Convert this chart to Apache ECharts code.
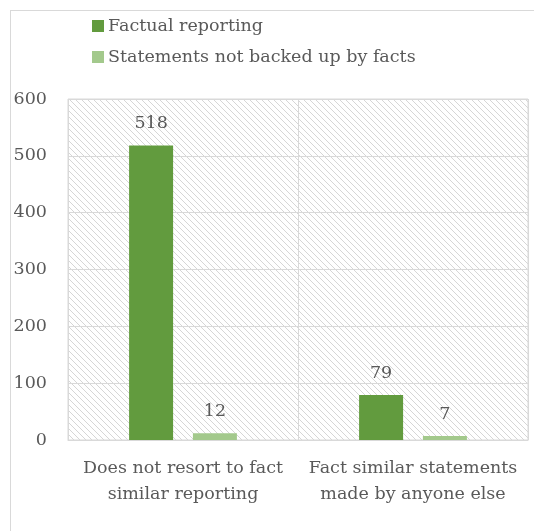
<!DOCTYPE html>
<html>
<head>
<meta charset="utf-8">
<script src="https://cdn.jsdelivr.net/npm/echarts@6/dist/echarts.min.js"></script>
<style>
  html, body { margin: 0; padding: 0; background: #fff; }
  #frame { position: absolute; left: 10px; top: 10px; width: 540px; height: 540px; border: 1px solid #d9d9d9; box-sizing: border-box; }
  #chart { position: absolute; left: 0; top: 0; width: 534px; height: 531px; }
</style>
</head>
<body>
<div id="frame"></div>
<div id="chart"></div>
<script>
// Categories and values
const categories = ['Does not resort to fact\nsimilar reporting', 'Fact similar statements\nmade by anyone else'];
const seriesNames = ['Factual reporting', 'Statements not backed up by facts'];
const factualValues = [518, 79];
const unbackedValues = [12, 7];
const yTicks = [0, 100, 200, 300, 400, 500, 600];

const FONT = 'DejaVu Serif';
const FS = 17.5;
const TEXT = '#595959';

// Diagonal hatch tile for the plot background
function hatchTile() {
  const n = 6;
  const c = document.createElement('canvas');
  c.width = n; c.height = n;
  const g = c.getContext('2d');
  g.fillStyle = '#ffffff';
  g.fillRect(0, 0, n, n);
  g.strokeStyle = '#d6d6d6';
  g.lineWidth = 1;
  g.beginPath();
  g.moveTo(-1, -1); g.lineTo(n + 1, n + 1);
  g.moveTo(-1, n - 1); g.lineTo(1, n + 1);
  g.moveTo(n - 1, -1); g.lineTo(n + 1, 1);
  g.stroke();
  return c;
}

const chart = echarts.init(document.getElementById('chart'), null, { renderer: 'canvas' });
chart.setOption({
  animation: false,
  textStyle: { fontFamily: FONT },
  legend: {
    orient: 'vertical',
    left: 87,
    top: 12,
    itemWidth: 12,
    itemHeight: 12,
    itemGap: 13,
    icon: 'rect',
    textStyle: { fontFamily: FONT, fontSize: FS, color: TEXT, padding: [0, 0, 0, -1] },
    data: seriesNames
  },
  grid: {
    left: 68, right: 6, top: 99, bottom: 91,
    show: true,
    borderColor: '#d9d9d9',
    borderWidth: 1,
    backgroundColor: { image: hatchTile(), repeat: 'repeat' }
  },
  xAxis: {
    type: 'category',
    data: categories,
    axisLine: { show: true, lineStyle: { color: '#d9d9d9' } },
    axisTick: { show: false },
    splitLine: { show: true, lineStyle: { color: '#d9d9d9' } },
    axisLabel: { fontFamily: FONT, fontSize: FS, color: TEXT, lineHeight: 26, margin: 15, interval: 0 }
  },
  yAxis: {
    type: 'value',
    min: yTicks[0],
    max: yTicks[yTicks.length - 1],
    interval: 100,
    axisLine: { show: false },
    axisTick: { show: false },
    splitLine: { lineStyle: { color: '#d9d9d9' } },
    axisLabel: { fontFamily: FONT, fontSize: FS, color: TEXT, margin: 21 }
  },
  series: [
    {
      name: seriesNames[0],
      type: 'bar',
      data: factualValues,
      barWidth: 44,
      barGap: '45%',
      itemStyle: { color: '#629b3e' },
      label: { show: true, position: 'top', distance: 13, fontFamily: FONT, fontSize: FS, color: TEXT }
    },
    {
      name: seriesNames[1],
      type: 'bar',
      data: unbackedValues,
      barWidth: 44,
      itemStyle: { color: '#a3c98c' },
      label: { show: true, position: 'top', distance: 13, fontFamily: FONT, fontSize: FS, color: TEXT }
    }
  ]
});
</script>
</body>
</html>
